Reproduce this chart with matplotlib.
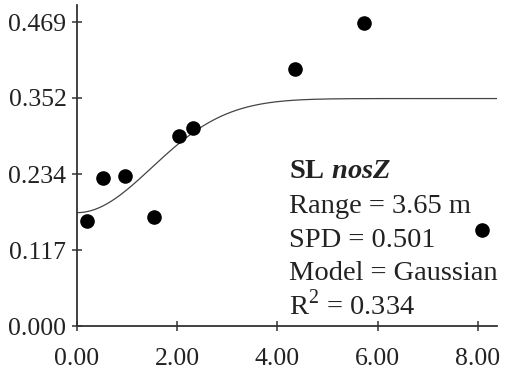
import numpy as np
import matplotlib
matplotlib.use("Agg")
import matplotlib.pyplot as plt

plt.rcParams["font.family"] = ["Liberation Serif", "DejaVu Serif"]
plt.rcParams["mathtext.fontset"] = "custom"
plt.rcParams["mathtext.rm"] = "Liberation Serif"
plt.rcParams["mathtext.bf"] = "Liberation Serif:bold"
plt.rcParams["mathtext.bfit"] = "Liberation Serif:bold:italic"

# lag distance (m) and semivariance
lag = [0.20, 0.52, 0.96, 1.53, 2.03, 2.31, 4.36, 5.72, 8.08]
semivar = [0.162, 0.228, 0.231, 0.168, 0.293, 0.305, 0.397, 0.467, 0.148]

yticks = [0.000, 0.117, 0.234, 0.352, 0.469]
xticks = [0.0, 2.0, 4.0, 6.0, 8.0]

# gaussian model parameters
nugget = 0.175
sill = 0.351
eff_range = 3.65

ink = "#222222"

fig = plt.figure(figsize=(5.06, 3.71), dpi=100)
ax = fig.add_axes([0.152, 0.121, 0.830, 0.865])

h = np.linspace(0, 8.38, 300)
model = nugget + (sill - nugget) * (1 - np.exp(-3 * h**2 / eff_range**2))
ax.plot(h, model, color="#444444", lw=0.9)
ax.scatter(lag, semivar, s=90, color="black", zorder=3, clip_on=False)

ax.set_xlim(0, 8.38)
ax.set_ylim(0, 0.495)
ax.set_xticks(xticks)
ax.set_xticklabels(["%.2f" % v for v in xticks])
ax.set_yticks(yticks)
ax.set_yticklabels(["%.3f" % v for v in yticks])

for s in ["top", "right"]:
    ax.spines[s].set_visible(False)
for s in ["left", "bottom"]:
    ax.spines[s].set_color("#333333")
    ax.spines[s].set_linewidth(1.3)

ax.tick_params(direction="inout", length=7, width=1.1, color="#333333",
               labelsize=18.5, labelcolor=ink)
ax.tick_params(axis="x", pad=12)
ax.tick_params(axis="y", pad=4)

tx = 4.24
lines = [r"$\mathbf{SL}\;\mathbfit{nosZ}$",
         "Range = 3.65 m",
         "SPD = 0.501",
         "Model = Gaussian",
         r"R$^2$ = 0.334"]
ys = [0.228, 0.174, 0.122, 0.071, 0.017]
for t, yy in zip(lines, ys):
    ax.text(tx, yy, t, fontsize=20.5, color=ink, va="baseline")

fig.savefig("out.png", dpi=100)
